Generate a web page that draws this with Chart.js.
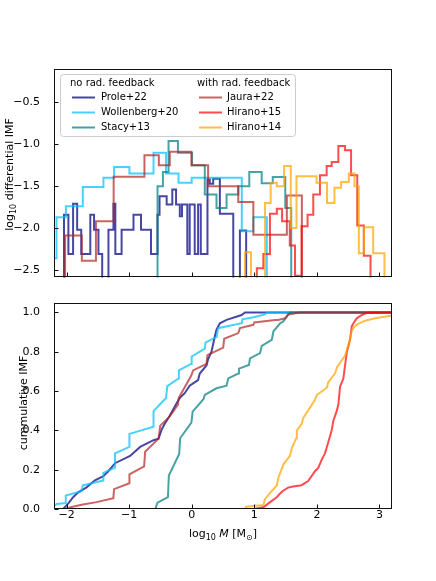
<!DOCTYPE html>
<html><head><meta charset="utf-8">
<script src="https://cdn.jsdelivr.net/npm/chart.js@4.4.0/dist/chart.umd.min.js"></script>
<style>
html,body{margin:0;padding:0;background:#fff;}
#wrap{position:relative;width:436px;height:581px;}
#c1{position:absolute;left:0;top:0;}
#c2{position:absolute;left:0;top:290px;}
</style></head><body>
<div id="wrap"><canvas id="c1" width="436" height="290"></canvas><canvas id="c2" width="436" height="291"></canvas></div>
<script>
// ---------- data ----------
const seriesNames = ['Prole+22','Wollenberg+20','Stacy+13','Jaura+22','Hirano+15','Hirano+14'];
const xTicks = [-2,-1,0,1,2,3];
const yTicksTop = [-2.5,-2.0,-1.5,-1.0,-0.5];
const yTicksBottom = [0.0,0.2,0.4,0.6,0.8,1.0];
const emptyBin = -3; // log10 of an empty bin, falls below the axis

// differential IMF: bin edges (log10 M) and log10 fraction per bin
const proleEdges = [-2.04,-1.97,-1.895,-1.83,-1.765,-1.62,-1.56,-1.49,-1.43,-1.33,-1.25,-1.22,-1.12,-0.93,-0.81,-0.65,-0.546,-0.514,-0.40,-0.31,-0.25,-0.19,-0.155,-0.07,-0.032,0.048,0.102,0.145,0.252,0.289,0.343,0.45,0.664,0.77,0.87];
const proleLogN = [-1.84,-2.31,-1.71,-2.02,-2.31,-1.84,-2.02,-2.31,-3,-2.02,-1.71,-2.31,-2.02,-1.84,-2.02,-2.31,-1.84,-1.62,-1.72,-1.54,-1.72,-1.86,-1.72,-2.31,-1.72,-2.31,-1.72,-2.31,-1.42,-1.47,-1.41,-1.83,-3,-2.03];
const wollenbergEdges = [-2.3,-2.16,-2.01,-1.74,-1.41,-1.24,-0.995,-0.61,-0.41,-0.21,0.0,0.8,0.985,1.2];
const wollenbergLogN = [-2.36,-1.87,-1.74,-1.51,-1.40,-1.27,-1.35,-1.10,-1.35,-1.46,-1.40,-2.04,-1.87];
const stacyEdges = [-0.546,-0.46,-0.37,-0.22,0.006,0.209,0.396,0.557,0.744,0.92,1.118,1.295,1.495,1.59];
const stacyLogN = [-1.50,-1.33,-0.96,-1.10,-1.25,-1.60,-1.76,-1.60,-1.50,-1.33,-1.465,-1.39,-1.76];
const jauraEdges = [-2.023,-1.755,-1.53,-1.247,-0.755,-0.525,-0.35,-0.005,0.262,0.744,0.985,1.52,1.76];
const jauraLogN = [-2.09,-2.39,-1.92,-1.386,-1.13,-1.25,-1.09,-1.25,-1.50,-1.69,-2.08,-1.61];
const hirano15Edges = [1.04,1.145,1.25,1.36,1.444,1.567,1.65,1.755,1.851,1.942,2.049,2.156,2.236,2.343,2.45,2.546,2.645,2.75,2.857];
const hirano15LogN = [-2.48,-2.31,-1.83,-1.77,-1.92,-2.21,-2.57,-1.98,-1.84,-1.60,-1.37,-1.26,-1.21,-1.02,-1.07,-1.37,-1.97,-2.33];
const hirano14Edges = [0.851,0.947,1.172,1.262,1.36,1.476,1.583,1.674,1.995,2.162,2.28,2.387,2.51,2.60,2.67,2.75,2.90,3.08,3.205,3.3];
const hirano14LogN = [-2.29,-3,-1.70,-1.46,-1.50,-1.26,-2.00,-1.38,-1.46,-1.70,-1.52,-1.45,-1.35,-1.50,-2.30,-1.99,-2.30,-3,-2.30];

// cumulative IMF: log10 M and cumulative fraction
const proleCumM = [-2.055,-1.974,-1.894,-1.814,-1.68,-1.546,-1.412,-1.332,-1.225,-0.985,-0.824,-0.61,-0.53,-0.476,-0.433,-0.353,-0.246,-0.192,-0.112,-0.032,0.022,0.102,0.129,0.236,0.263,0.316,0.37,0.396,0.45,0.557,0.798,0.851,3.2];
const proleCumF = [0.0,0.027,0.06,0.085,0.11,0.146,0.167,0.192,0.233,0.27,0.316,0.35,0.358,0.407,0.432,0.473,0.535,0.564,0.589,0.627,0.639,0.656,0.689,0.73,0.763,0.80,0.879,0.912,0.945,0.962,0.987,1.0,1.0];
const wollenbergCumM = [-2.215,-2.16,-2.012,-2.012,-1.76,-1.74,-1.412,-1.412,-1.225,-1.225,-0.995,-0.995,-0.61,-0.61,-0.41,-0.39,-0.21,-0.205,-0.01,0.0,0.21,0.22,0.40,0.42,0.80,0.81,0.985,1.17,1.20,3.2];
const wollenbergCumF = [0.01,0.025,0.03,0.068,0.09,0.12,0.145,0.184,0.21,0.283,0.316,0.382,0.419,0.498,0.565,0.625,0.664,0.705,0.738,0.776,0.816,0.846,0.876,0.92,0.945,0.965,0.975,0.99,1.0,1.0];
const stacyCumM = [-1.0,-0.583,-0.546,-0.38,-0.365,-0.2,-0.185,-0.005,0.015,0.19,0.209,0.396,0.557,0.584,0.744,0.755,0.915,0.931,1.092,1.119,1.279,1.306,1.413,1.46,1.54,1.57,3.2];
const stacyCumF = [0.0,0.0,0.032,0.06,0.17,0.28,0.36,0.44,0.495,0.56,0.58,0.614,0.627,0.664,0.689,0.714,0.733,0.766,0.793,0.83,0.86,0.904,0.945,0.953,0.987,1.0,1.0];
const jauraCumM = [-2.055,-1.76,-1.52,-1.252,-1.24,-0.995,-0.995,-0.76,-0.744,-0.53,-0.503,-0.37,-0.326,-0.219,-0.208,-0.005,0.022,0.236,0.252,0.503,0.519,0.744,0.771,0.985,1.0,1.333,1.38,1.49,1.54,1.73,3.2];
const jauraCumF = [0.0,0.022,0.035,0.055,0.101,0.131,0.176,0.217,0.291,0.358,0.424,0.465,0.482,0.531,0.565,0.68,0.705,0.738,0.783,0.821,0.866,0.895,0.92,0.937,0.949,0.962,0.962,0.97,0.99,1.0,1.0];
const hirano15CumM = [1.0,1.15,1.252,1.359,1.40,1.46,1.54,1.62,1.755,1.86,1.915,1.969,2.022,2.076,2.129,2.183,2.236,2.263,2.316,2.343,2.37,2.423,2.477,2.53,2.557,2.584,2.637,2.718,2.798,3.2];
const hirano15CumF = [0.0,0.01,0.035,0.06,0.075,0.093,0.109,0.114,0.121,0.142,0.167,0.192,0.209,0.25,0.283,0.341,0.399,0.449,0.498,0.531,0.622,0.664,0.796,0.862,0.929,0.945,0.97,0.987,0.998,1.0];
const hirano14CumM = [0.85,0.87,1.145,1.17,1.26,1.36,1.39,1.47,1.57,1.60,1.67,1.68,1.76,1.78,1.97,2.0,2.16,2.18,2.29,2.32,2.45,2.48,2.53,2.56,2.60,2.66,2.77,2.93,3.15,3.25];
const hirano14CumF = [0.0,0.012,0.02,0.05,0.085,0.12,0.165,0.23,0.27,0.31,0.36,0.40,0.435,0.462,0.556,0.58,0.617,0.644,0.69,0.72,0.78,0.81,0.866,0.909,0.929,0.942,0.958,0.97,0.982,0.985];

// ---------- styling ----------
const colors = ['rgba(0,0,128,0.72)','rgba(0,191,255,0.72)','rgba(0,128,128,0.72)','rgba(178,34,34,0.7)','rgba(255,0,0,0.7)','rgba(255,165,0,0.72)'];
const FONT = '"DejaVu Sans", "Liberation Sans", sans-serif';
const X_MIN = -2.2, X_MAX = 3.2;

function histPoints(edges, vals) {
  const pts = [{x: edges[0], y: emptyBin}];
  for (let i = 0; i < vals.length; i++) pts.push({x: edges[i], y: vals[i]});
  pts.push({x: edges[edges.length - 1], y: emptyBin});
  return pts;
}
function cumPoints(m, f) { return m.map((v, i) => ({x: v, y: f[i]})); }
const fmt = (v, d) => (d === 0 ? String(Math.round(v)) : v.toFixed(d)).replace('-', '\u2212');

const histSets = [
  [proleEdges, proleLogN],[wollenbergEdges, wollenbergLogN],[stacyEdges, stacyLogN],
  [jauraEdges, jauraLogN],[hirano15Edges, hirano15LogN],[hirano14Edges, hirano14LogN]];
const cumSets = [
  [proleCumM, proleCumF],[wollenbergCumM, wollenbergCumF],[stacyCumM, stacyCumF],
  [jauraCumM, jauraCumF],[hirano15CumM, hirano15CumF],[hirano14CumM, hirano14CumF]];

// Chart.js draws dataset 0 on top; list in reverse so Prole ends on top like the reference
function makeDatasets(sets, stepped) {
  const ds = sets.map((s, i) => ({
    label: seriesNames[i],
    data: stepped ? histPoints(s[0], s[1]) : cumPoints(s[0], s[1]),
    borderColor: colors[i], backgroundColor: colors[i],
    borderWidth: 2, pointRadius: 0, tension: 0, fill: false,
    stepped: stepped ? 'before' : false,
    borderJoinStyle: 'miter', clip: 0
  }));
  return ds.reverse();
}

function frameTicksPlugin() {
  return {
    id: 'frameTicks',
    afterDraw(chart) {
      const {ctx, chartArea: a, scales} = chart;
      ctx.save();
      ctx.strokeStyle = '#111'; ctx.lineWidth = 1;
      const L = Math.round(a.left) + 0.5, R = Math.round(a.right) - 0.5;
      const T = Math.round(a.top) + 0.5, B = Math.round(a.bottom) - 0.5;
      ctx.beginPath();
      scales.x.ticks.forEach(t => {
        const p = Math.round(scales.x.getPixelForValue(t.value)) + 0.5;
        ctx.moveTo(p, B); ctx.lineTo(p, B - 4);
      });
      scales.y.ticks.forEach(t => {
        const p = Math.round(scales.y.getPixelForValue(t.value)) + 0.5;
        ctx.moveTo(L, p); ctx.lineTo(L + 4, p);
      });
      ctx.stroke();
      ctx.strokeRect(L, T, R - L, B - T);
      ctx.restore();
    }
  };
}

function drawRich(ctx, parts, x, y, rot, size) {
  ctx.save();
  ctx.translate(x, y);
  if (rot) ctx.rotate(rot);
  const fontOf = p => `${p.it ? 'italic ' : ''}${p.sub ? Math.round(size * 0.7) : size}px ${FONT}`;
  let w = 0;
  parts.forEach(p => { ctx.font = fontOf(p); w += ctx.measureText(p.t).width; });
  let cx = -w / 2;
  ctx.fillStyle = '#000'; ctx.textBaseline = 'alphabetic'; ctx.textAlign = 'left';
  parts.forEach(p => { ctx.font = fontOf(p); ctx.fillText(p.t, cx, p.sub ? size * 0.27 : 0); cx += ctx.measureText(p.t).width; });
  ctx.restore();
}

function titlesPlugin(items) {
  return { id: 'titles', afterDraw(chart) { items.forEach(it => drawRich(chart.ctx, it.parts, it.x, it.y, it.rot, it.size)); } };
}

const legendPlugin = {
  id: 'customLegend',
  afterDraw(chart) {
    const ctx = chart.ctx;
    ctx.save();
    const bx = 60.5, by = 74.5, bw = 235, bh = 62, r = 3;
    ctx.beginPath();
    ctx.moveTo(bx + r, by); ctx.lineTo(bx + bw - r, by); ctx.quadraticCurveTo(bx + bw, by, bx + bw, by + r);
    ctx.lineTo(bx + bw, by + bh - r); ctx.quadraticCurveTo(bx + bw, by + bh, bx + bw - r, by + bh);
    ctx.lineTo(bx + r, by + bh); ctx.quadraticCurveTo(bx, by + bh, bx, by + bh - r);
    ctx.lineTo(bx, by + r); ctx.quadraticCurveTo(bx, by, bx + r, by);
    ctx.closePath();
    ctx.fillStyle = 'rgba(255,255,255,0.8)'; ctx.fill();
    ctx.strokeStyle = '#cccccc'; ctx.lineWidth = 1; ctx.stroke();
    ctx.font = `10px ${FONT}`; ctx.fillStyle = '#000'; ctx.textBaseline = 'middle'; ctx.textAlign = 'left';
    ctx.fillText('no rad. feedback', 70, 83);
    ctx.fillText('with rad. feedback', 197, 83);
    const rows = [97.5, 112.5, 127.5];
    const cols = [{hx: 72, tx: 101}, {hx: 199, tx: 227}];
    for (let i = 0; i < 6; i++) {
      const c = cols[Math.floor(i / 3)], y = rows[i % 3];
      ctx.strokeStyle = colors[i]; ctx.lineWidth = 2;
      ctx.beginPath(); ctx.moveTo(c.hx, y); ctx.lineTo(c.hx + 23, y); ctx.stroke();
      ctx.fillStyle = '#000';
      ctx.fillText(seriesNames[i], c.tx, y);
    }
    ctx.restore();
  }
};

const tickFont = {family: FONT, size: 11};

// ---------- top panel ----------
new Chart(document.getElementById('c1'), {
  type: 'line',
  data: {datasets: makeDatasets(histSets, true)},
  options: {
    responsive: false, animation: false, devicePixelRatio: 1,
    layout: {padding: {top: 69, right: 44, bottom: 0, left: 0}},
    plugins: {legend: {display: false}, tooltip: {enabled: false}},
    scales: {
      x: {type: 'linear', min: X_MIN, max: X_MAX, grid: {display: false}, border: {display: false},
          ticks: {display: false},
          afterBuildTicks: s => { s.ticks = xTicks.map(v => ({value: v})); },
          afterFit: s => { s.height = 10; }},
      y: {type: 'linear', min: -2.59, max: -0.1, grid: {display: false}, border: {display: false},
          ticks: {font: tickFont, color: '#000', padding: 6, callback: v => fmt(v, 1)},
          afterBuildTicks: s => { s.ticks = yTicksTop.map(v => ({value: v})); },
          afterFit: s => { s.width = 54; }}
    }
  },
  plugins: [frameTicksPlugin(), legendPlugin, titlesPlugin([
    {parts: [{t: 'log'}, {t: '10', sub: true}, {t: ' differential IMF'}], x: 13, y: 174.5, rot: -Math.PI / 2, size: 11}
  ])]
});

// ---------- bottom panel ----------
new Chart(document.getElementById('c2'), {
  type: 'line',
  data: {datasets: makeDatasets(cumSets, false)},
  options: {
    responsive: false, animation: false, devicePixelRatio: 1,
    layout: {padding: {top: 7, right: 44, bottom: 0, left: 0}},
    plugins: {legend: {display: false}, tooltip: {enabled: false}},
    scales: {
      x: {type: 'linear', min: X_MIN, max: X_MAX, grid: {display: false}, border: {display: false},
          ticks: {font: tickFont, color: '#000', padding: -8, maxRotation: 0, callback: v => fmt(v, 0)},
          afterBuildTicks: s => { s.ticks = xTicks.map(v => ({value: v})); },
          afterFit: s => { s.height = 72; }},
      y: {type: 'linear', min: 0, max: 1.05, grid: {display: false}, border: {display: false},
          ticks: {font: tickFont, color: '#000', padding: 6, callback: v => fmt(v, 1)},
          afterBuildTicks: s => { s.ticks = yTicksBottom.map(v => ({value: v})); },
          afterFit: s => { s.width = 54; }}
    }
  },
  plugins: [frameTicksPlugin(), titlesPlugin([
    {parts: [{t: 'cummulative IMF'}], x: 26.7, y: 113, rot: -Math.PI / 2, size: 11},
    {parts: [{t: 'log'}, {t: '10', sub: true}, {t: ' '}, {t: 'M', it: true}, {t: ' [M'}, {t: '\u2299', sub: true}, {t: ']'}], x: 223, y: 247, rot: 0, size: 11}
  ])]
});
</script>
</body></html>
